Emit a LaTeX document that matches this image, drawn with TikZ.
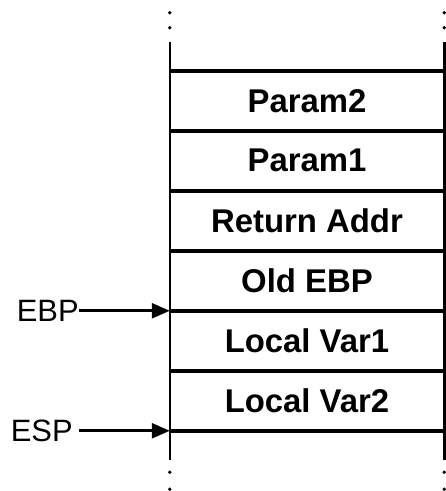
\documentclass[tikz,border=0pt]{standalone}
\usepackage{fontspec}
\setmainfont{Liberation Sans}
\usetikzlibrary{arrows.meta,positioning}

\begin{document}
\begin{tikzpicture}[x=1bp,y=1bp,>={Triangle[length=18bp,width=15bp]},
    cell/.style={minimum width=274bp,minimum height=59.6bp,inner sep=0pt,
                 font=\bfseries\fontsize{33}{39}\selectfont},
    reg/.style={inner sep=0pt,font=\fontsize{31}{37}\selectfont},
    rail/.style={line width=2.6bp},
    slot/.style={line width=3.6bp},
    ptr/.style={line width=2.6bp,->}]
    \useasboundingbox (0,0) rectangle (446,491);
    \node[cell] (p2) at (307,390.2) {Param2};
    \node[cell,below=0pt of p2] (p1) {Param1};
    \node[cell,below=0pt of p1] (ret) {Return Addr};
    \node[cell,below=0pt of ret] (ebpold) {Old EBP};
    \node[cell,below=0pt of ebpold] (lv1) {Local Var1};
    \node[cell,below=0pt of lv1] (lv2) {Local Var2};
    % side rails and dots
    \foreach \s in {west,east} {
        \draw[rail] ([yshift=29bp]p2.north \s) -- ([yshift=-29bp]lv2.south \s);
        \fill ([yshift=43bp]p2.north \s) circle (1.9bp);
        \fill ([yshift=58bp]p2.north \s) circle (1.9bp);
        \fill ([yshift=-41.5bp]lv2.south \s) circle (1.9bp);
        \fill ([yshift=-58.5bp]lv2.south \s) circle (1.9bp);
    }
    % slot borders
    \foreach \c in {p2,p1,ret,ebpold,lv1,lv2}
        \draw[slot] (\c.north west) -- (\c.north east);
    \draw[slot] (lv2.south west) -- (lv2.south east);
    % registers
    \node[reg,left=91bp of lv1.north west] (ebp) {EBP};
    \node[reg,left=97bp of lv2.south west] (esp) {ESP};
    \draw[ptr] (ebp.east) -- (lv1.north west);
    \draw[ptr] ([xshift=6bp]esp.east) -- (lv2.south west);
\end{tikzpicture}
\end{document}
